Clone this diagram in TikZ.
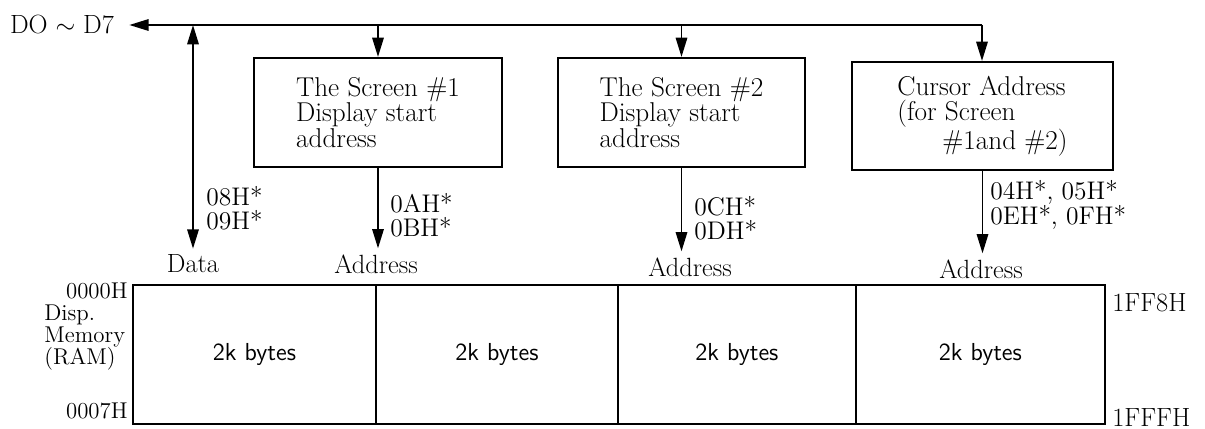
\documentclass[tikz,border=0pt]{standalone}
\usepackage{amsmath}
\usepackage{amssymb}
\usepackage{fontspec}
\usepackage{tikz}
\usetikzlibrary{arrows.meta,positioning,shapes}
\tikzset{
    %Define standard arrow tip
    >={Triangle[length=11pt,width=6.5pt]},
    %Define style for boxes
    regbox/.style={
           rectangle,
           draw=black, line width=1.2pt,
           minimum height=2.18cm,
           align=left,
           font=\fontsize{15.5}{14.5}\selectfont},
    cell/.style={
           rectangle,
           draw=black, line width=1.2pt,
           outer sep=0pt,
           anchor=north west,
           minimum height=2.78cm,
           font=\sffamily\fontsize{14}{16}\selectfont},
    % Define label style
    lbl/.style={
           anchor=west,
           inner sep=0pt,
           align=left,
           font=\fontsize{14.5}{13.5}\selectfont},
    % Define arrow style
    pil/.style={
           ->,
           line width=1.1pt},
    dpil/.style={
           <->,
           line width=1.1pt}
}

\begin{document}
\begin{tikzpicture}[x=0.02cm, y=-0.02cm, font=\fontsize{15}{14}\selectfont]
    \useasboundingbox (0,0) rectangle (1205,429);

    % DATA BUS
    \node[inner xsep=0.3cm] at (62,25) (dbus) {DO $\sim$ D7};
    \coordinate (busR) at (982,25);
    \draw[pil] (busR) -- (dbus.east);

    % REGISTERS
    \node[regbox, minimum width=4.96cm] at (378,112.5) (scr1) {The Screen \#1\\Display start\\address};
    \node[regbox, minimum width=4.94cm] at (681.5,112.5) (scr2) {The Screen \#2\\Display start\\address};
    \node[regbox, minimum width=5.22cm, minimum height=2.16cm] at (982.5,116) (cur) {Cursor Address\\(for Screen\\\hspace*{0.9cm}\#1and \#2)};
    \draw[pil] (scr1.north |- busR) -- (scr1.north);
    \draw[pil] (scr2.north |- busR) -- (scr2.north);
    \draw[pil] (busR) -- (busR |- cur.north);

    % DATA AND ADDRESS LINES
    \coordinate (dtop) at (193,25);
    \node at (193,264) (data) {Data};
    \node at (376,264) (adr1) {Address};
    \node at (690,267) (adr2) {Address};
    \node at (981,269) (adr3) {Address};
    \draw[dpil] (dtop) -- (data.north);
    \draw[pil] (scr1.south) -- (scr1.south |- adr1.north);
    \draw[pil] (scr2.south) -- (scr2.south |- adr2.north);
    \draw[pil] (cur.south) -- (cur.south |- adr3.north);

    \node[lbl] at (206,208) (dreg) {08H*\\09H*};
    \node[lbl] at (390,215) (areg1) {0AH*\\0BH*};
    \node[lbl] at (694,218) (areg2) {0CH*\\0DH*};
    \node[lbl] at (990,205) (creg) {04H*, 05H*\\0EH*, 0FH*};

    % DISPLAY MEMORY
    \node[cell, minimum width=4.86cm] at (133,285) (mem1) {2k bytes};
    \node[cell, minimum width=4.84cm, right=0pt of mem1] (mem2) {2k bytes};
    \node[cell, minimum width=4.76cm, right=0pt of mem2] (mem3) {2k bytes};
    \node[cell, minimum width=4.98cm, right=0pt of mem3] (mem4) {2k bytes};

    \node[anchor=east, inner sep=0pt, font=\fontsize{13}{12}\selectfont] at (128,291) (adrlo) {0000H};
    \node[anchor=west, inner sep=0pt, align=left, font=\fontsize{13}{12.5}\selectfont] at (44,338) (memlbl) {Disp.\\Memory\\(RAM)};
    \node[anchor=east, inner sep=0pt, font=\fontsize{13}{12}\selectfont] at (128,411) (adrhi) {0007H};
    \node[anchor=west, inner sep=0pt] at (1112,303) (endlo) {1FF8H};
    \node[anchor=west, inner sep=0pt] at (1112,417) (endhi) {1FFFH};

\end{tikzpicture}
\end{document}
